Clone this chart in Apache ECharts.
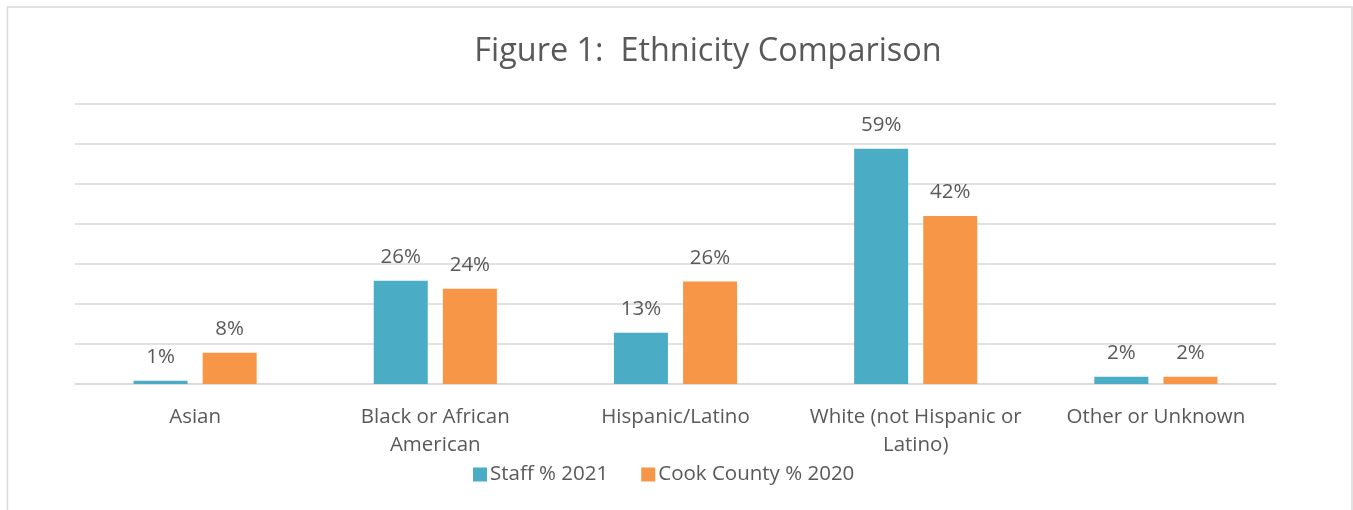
<!DOCTYPE html>
<html>
<head>
<meta charset="utf-8">
<script src="https://cdn.jsdelivr.net/npm/echarts@6/dist/echarts.min.js"></script>
<style>
html,body{margin:0;padding:0;background:#fff;}
#c{width:1353px;height:510px;}
</style>
</head>
<body>
<div id="c"></div>
<script>
const categories = ['Asian', 'Black or African\nAmerican', 'Hispanic/Latino', 'White (not Hispanic or\nLatino)', 'Other or Unknown'];
const staff2021 = [0.8, 25.8, 12.8, 58.8, 1.8];
const cook2020 = [7.8, 23.8, 25.6, 42.0, 1.8];
const seriesNames = ['Staff % 2021', 'Cook County % 2020'];
const titleText = 'Figure 1:  Ethnicity Comparison';

const FONT = '"Open Sans", Lato, sans-serif';
const TXT = '#595959';
const chart = echarts.init(document.getElementById('c'), null, {renderer: 'canvas'});
const labelOpt = {
  show: true, position: 'top', distance: 13,
  color: TXT, fontFamily: FONT, fontSize: 20.5,
  formatter: p => Math.round(p.value) + '%'
};
chart.setOption({
  animation: false,
  backgroundColor: '#fff',
  title: {
    text: titleText, left: 703, top: 31, textAlign: 'center',
    textStyle: {color: TXT, fontFamily: FONT, fontSize: 32.4, fontWeight: 'normal'}
  },
  graphic: [{
    type: 'rect', shape: {x: 7.5, y: 7, width: 1344.5, height: 520},
    style: {fill: 'none', stroke: '#d9d9d9', lineWidth: 1.5}, silent: true
  }],
  legend: {
    data: seriesNames, left: 468, top: 459, icon: 'rect',
    itemWidth: 14, itemHeight: 14, itemGap: 33,
    textStyle: {color: TXT, fontFamily: FONT, fontSize: 20.5, padding: [0, 0, 0, -2]}
  },
  grid: {left: 75, right: 77, top: 104, bottom: 126, containLabel: false},
  xAxis: {
    type: 'category', data: categories,
    axisLine: {lineStyle: {color: '#d9d9d9', width: 1.5}},
    axisTick: {show: false},
    axisLabel: {color: TXT, fontFamily: FONT, fontSize: 20.5, lineHeight: 28, margin: 19, interval: 0}
  },
  yAxis: {
    type: 'value', min: 0, max: 70, interval: 10,
    axisLabel: {show: false}, axisLine: {show: false}, axisTick: {show: false},
    splitLine: {lineStyle: {color: '#d9d9d9', width: 1.5}}
  },
  series: [
    {name: seriesNames[0], type: 'bar', data: staff2021, barWidth: 54, barGap: '28%',
     itemStyle: {color: '#4BACC6'}, label: labelOpt},
    {name: seriesNames[1], type: 'bar', data: cook2020, barWidth: 54,
     itemStyle: {color: '#F79646'}, label: labelOpt}
  ]
});
</script>
</body>
</html>
